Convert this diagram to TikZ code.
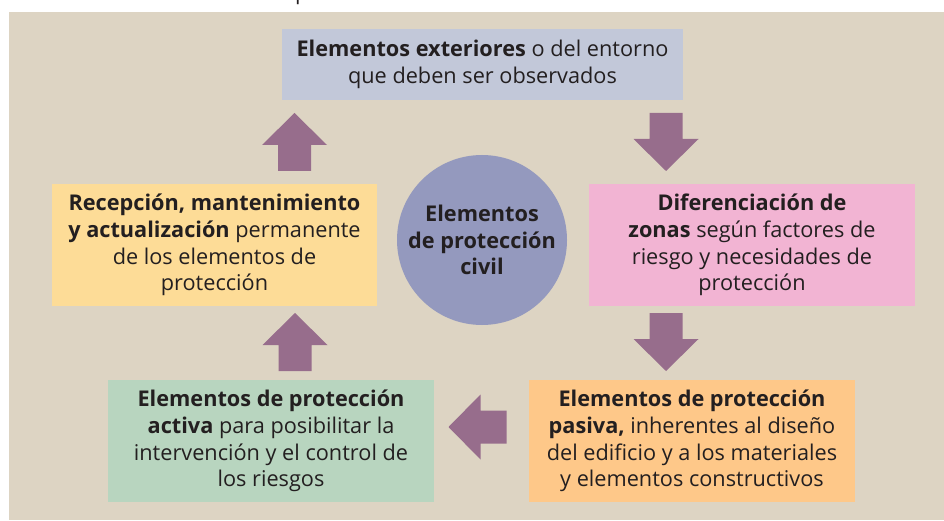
\documentclass[tikz,border=0pt]{standalone}
\usepackage{fontspec}
\setmainfont{Open Sans}
\usepackage{tikz}

\definecolor{bgbeige}{HTML}{DDD4C3}
\definecolor{boxblue}{HTML}{C2C8D9}
\definecolor{boxpink}{HTML}{F2B4D3}
\definecolor{boxyellow}{HTML}{FDDC97}
\definecolor{boxgreen}{HTML}{B8D5BF}
\definecolor{boxorange}{HTML}{FEC889}
\definecolor{circleviolet}{HTML}{9499BE}
\definecolor{arrowviolet}{HTML}{976D8C}
\definecolor{textdark}{HTML}{231F20}

\begin{document}
\begin{tikzpicture}[x=1pt, y=-1pt,
    box/.style={inner sep=0pt, align=center, text=textdark,
        font=\fontsize{21.7}{26.6}\selectfont,
        minimum width=326pt, minimum height=122pt},
    arrowfill/.style={fill=arrowviolet}]
    \useasboundingbox (0,0) rectangle (944,521);
    \fill[bgbeige] (9,12) rectangle (944,520);
    % cut-off letter of the line above
    \begin{scope}
        \clip (280,0) rectangle (320,12);
        \node[anchor=base west, inner sep=0pt, text=textdark,
            font=\fontsize{21.7}{26.6}\selectfont] (cutp) at (295,0) {p};
    \end{scope}
    \node[box, fill=boxblue, minimum width=401pt, minimum height=71pt]
        (exterior) at (482.5,64.5)
        {\textbf{Elementos exteriores} o del entorno\\que deben ser observados};
    \node[box, fill=boxpink] (zonas) at (752,245)
        {\textbf{Diferenciación de}\\\textbf{zonas} según factores de\\riesgo y necesidades de\\protección};
    \node[box, fill=boxorange] (pasiva) at (692,441)
        {\textbf{Elementos de protección}\\\textbf{pasiva,} inherentes al diseño\\del edificio y a los materiales\\y elementos constructivos};
    \node[box, fill=boxgreen] (activa) at (271,441)
        {\textbf{Elementos de protección}\\\textbf{activa} para posibilitar la\\intervención y el control de\\los riesgos};
    \node[box, fill=boxyellow, minimum width=325pt] (recepcion) at (214.5,245)
        {\textbf{Recepción, mantenimiento}\\\textbf{y actualización} permanente\\de los elementos de\\protección};
    \node[box, circle, fill=circleviolet, minimum size=170pt, minimum width=170pt,
        minimum height=170pt] (centro) at (482,240)
        {\textbf{Elementos}\\\textbf{de protección}\\\textbf{civil}};
    % block arrows: x/y of the middle, direction
    \foreach \x/\y/\a in {666/142/-90, 666/342/-90, 477.5/427/180,
                          295/342/90, 294.5/142/90} {
        \fill[arrowfill, shift={(\x,\y)}, rotate=\a]
            (-29,-16.5) -- (-3,-16.5) -- (-3,-32.5) -- (29,0)
            -- (-3,32.5) -- (-3,16.5) -- (-29,16.5) -- cycle;
    }
\end{tikzpicture}
\end{document}
